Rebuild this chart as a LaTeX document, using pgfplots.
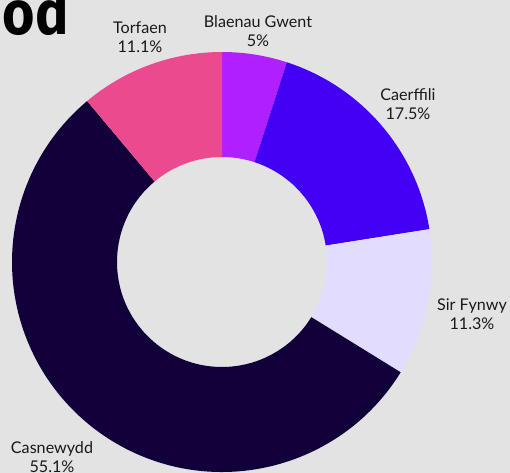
\documentclass[border=0pt]{standalone}
\usepackage{pgfplots}
\pgfplotsset{compat=1.18}
\usepackage{pgfplotstable}
\usepackage{fontspec}
\setmainfont{Lato}
\newfontfamily\titlefont{Fira Sans}
\definecolor{cBG}{HTML}{B01FFF}
\definecolor{cCA}{HTML}{4200F5}
\definecolor{cSF}{HTML}{E2DDFF}
\definecolor{cCN}{HTML}{12003B}
\definecolor{cTO}{HTML}{EC4A8E}
\definecolor{bgcol}{HTML}{E3E3E3}
\pgfplotstableread[col sep=comma]{
name,value,color,lx,ly
Blaenau Gwent,5,cBG,258,442
Caerffili,17.5,cCA,408,369
Sir Fynwy,11.3,cSF,472,159
Casnewydd,55.1,cCN,52,16
Torfaen,11.1,cTO,140,436
}\piedata
\begin{document}
\begin{tikzpicture}
\clip (0,0) rectangle (510bp,473bp);
\begin{axis}[
  at={(0,0)}, anchor=south west,
  x=1bp, y=1bp, xmin=0, xmax=510, ymin=0, ymax=473,
  hide axis, clip=false,
]
\fill[bgcol] (axis cs:0,0) rectangle (axis cs:510,473);
\node[anchor=base east, inner sep=0pt, font=\titlefont\bfseries\fontsize{62}{62}\selectfont] at (axis cs:69,438) {\scalebox{0.9}[1]{od}};
\def\cum{0}
\pgfplotsforeachungrouped \i in {0,...,4}{%
  \pgfplotstablegetelem{\i}{value}\of\piedata \let\sv\pgfplotsretval
  \pgfplotstablegetelem{\i}{color}\of\piedata \let\sc\pgfplotsretval
  \pgfplotstablegetelem{\i}{name}\of\piedata \let\sn\pgfplotsretval
  \pgfplotstablegetelem{\i}{lx}\of\piedata \let\slx\pgfplotsretval
  \pgfplotstablegetelem{\i}{ly}\of\piedata \let\sly\pgfplotsretval
  \pgfmathsetmacro\sa{90-3.6*\cum}%
  \pgfmathsetmacro\sb{90-3.6*(\cum+\sv)}%
  \edef\cmd{\noexpand\fill[\sc] (axis cs:{222+210*cos(\sa)},{211+210*sin(\sa)}) arc[start angle=\sa, end angle=\sb, radius=210bp] -- (axis cs:{222+105*cos(\sb)},{211+105*sin(\sb)}) arc[start angle=\sb, end angle=\sa, radius=105bp] -- cycle;
  \noexpand\node[align=center, inner sep=0pt, font=\noexpand\fontsize{16.2}{18.5}\noexpand\selectfont, text=black!90] at (axis cs:\slx,\sly) {\sn\noexpand\\\sv\noexpand\%};}%
  \cmd
  \pgfmathsetmacro\cum{\cum+\sv}%
}
\end{axis}
\end{tikzpicture}
\end{document}
